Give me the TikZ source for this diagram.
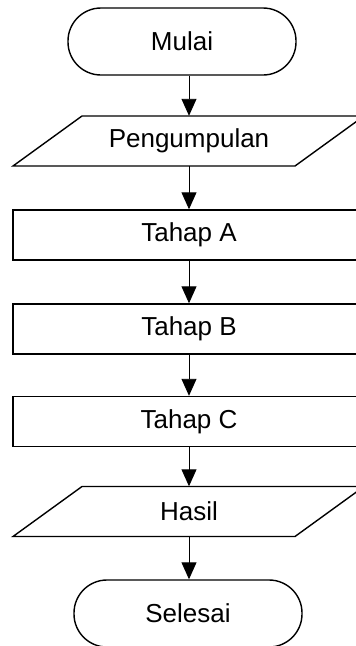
\documentclass[tikz,border=0pt]{standalone}
\usepackage{fontspec}
\setmainfont{Liberation Sans}
\usetikzlibrary{arrows.meta,calc}
\begin{document}
\begin{tikzpicture}[x=1pt,y=-1pt,
  every node/.style={font=\fontsize{26}{30}\selectfont, inner sep=0pt},
  term/.style={draw, line width=1.4pt, rounded corners=33pt, minimum width=228pt, minimum height=67pt},
  procbox/.style={draw, line width=1.4pt, minimum width=352pt, minimum height=50pt},
  iotext/.style={minimum width=200pt, minimum height=50pt},
  io/.style={draw, line width=1.4pt, line join=miter},
  arr/.style={line width=0.9pt, -{Triangle[length=17pt,width=15pt]}}]
\useasboundingbox (0,0) rectangle (356,646);
\clip (0,0) rectangle (356,646);
\node[term] (mulai) at (182,41.5) {Mulai};
\node[iotext] (peng) at (189,141) {Pengumpulan};
\draw[io] (82,116) -- (364,116) -- (295,166) -- (13,166) -- cycle;
\node[procbox] (ta) at (189,235) {Tahap A};
\node[procbox] (tb) at (189,329) {Tahap B};
\node[procbox] (tc) at (189,421.5) {Tahap C};
\node[iotext] (hasil) at (189,511.5) {Hasil};
\draw[io] (82,486.5) -- (364,486.5) -- (295,536.5) -- (13,536.5) -- cycle;
\node[term] (sel) at (188,613.5) {Selesai};
\draw[arr] (mulai.south -| peng.north) -- (peng.north);
\draw[arr] (peng.south) -- (ta.north);
\draw[arr] (ta.south) -- (tb.north);
\draw[arr] (tb.south) -- (tc.north);
\draw[arr] (tc.south) -- (hasil.north);
\draw[arr] (hasil.south) -- (sel.north -| hasil.south);
\end{tikzpicture}
\end{document}
